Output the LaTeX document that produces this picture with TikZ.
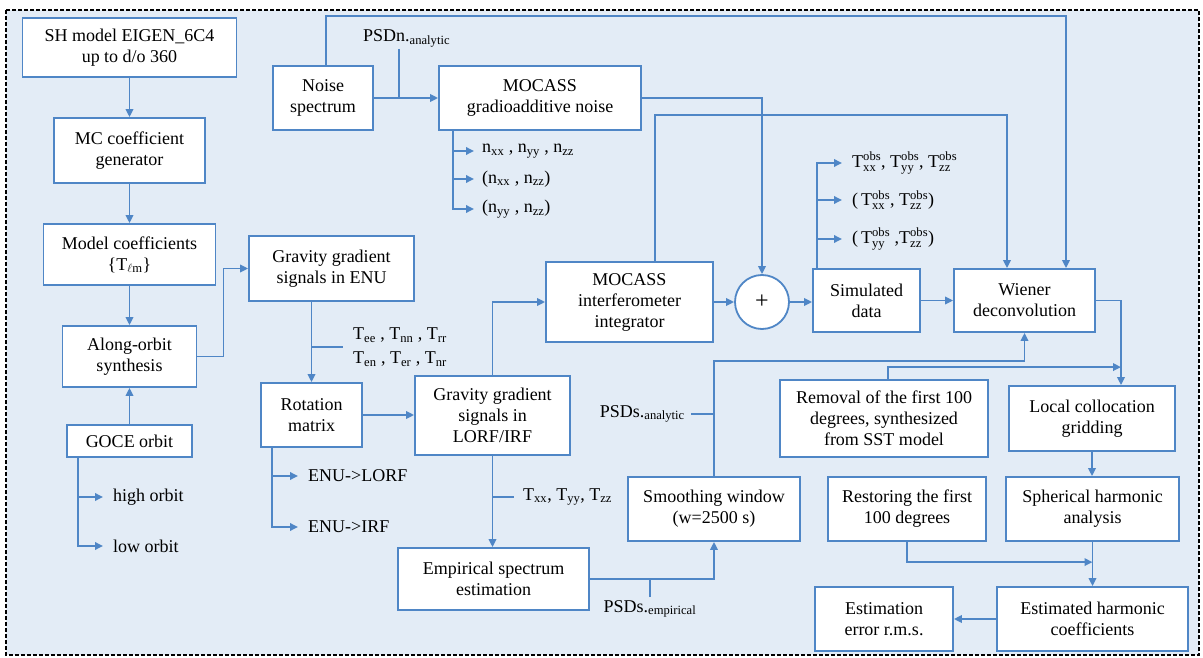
\documentclass[tikz,border=0pt]{standalone}
\usepackage{fontspec}
\setmainfont{Liberation Serif}
\usetikzlibrary{arrows.meta}
\definecolor{lineblue}{HTML}{4F86C6}
\definecolor{bgblue}{HTML}{E3ECF6}
\newcommand{\tobs}[1]{$\mathrm{T}^{\mathrm{obs}}_{\mathrm{#1}}$}

\begin{document}
\begin{tikzpicture}[x=1pt,y=-1pt,
    every node/.style={font=\fontsize{18}{21}\selectfont},
    box/.style={draw=lineblue,fill=white,line width=1.8pt,align=center,inner sep=2pt},
    lbl/.style={anchor=west,inner xsep=10pt,inner ysep=1pt,align=left},
    arr/.style={draw=lineblue,line width=1.8pt,-{Triangle[length=8pt,width=7.5pt]}},
    link/.style={draw=lineblue,line width=1.8pt}]
       % frame
       \useasboundingbox (0,0) rectangle (1203,658);
       \fill[white] (0,0) rectangle (1203,658);
       \draw[fill=bgblue,line width=1.3pt,dash pattern=on 4pt off 2pt] (6,10) rectangle (1199,655);
       % left column
       \node[box,minimum width=214pt,minimum height=59pt] (sh) at (129.5,47.5) {SH model EIGEN\_6C4\\up to d/o 360};
       \node[box,minimum width=151pt,minimum height=65pt] (mc) at (129.5,150.5) {MC coefficient\\generator};
       \node[box,minimum width=172pt,minimum height=61pt] (coef) at (129.5,254.5) {Model coefficients\\\{T\textsubscript{$\ell$m}\}};
       \node[box,minimum width=134pt,minimum height=61pt] (along) at (129.5,356.5) {Along-orbit\\synthesis};
       \node[box,minimum width=125pt,minimum height=32pt] (goce) at (129.5,441) {GOCE orbit};
       \node[lbl] (hi) at (103,497) {high orbit};
       \node[lbl] (lo) at (103,546) {low orbit};
       % noise branch
       \node[box,minimum width=100pt,minimum height=64pt] (noise) at (323,98) {Noise\\spectrum};
       \node[box,minimum width=202pt,minimum height=64pt] (gradio) at (540,98) {MOCASS\\gradioadditive noise};
       \node[anchor=base west,inner sep=0pt] (psdn) at (363,42) {PSDn.\textsubscript{analytic}};
       \coordinate (pn) at (399,49);
       \node[lbl,inner xsep=8pt] (n1) at (474,151) {n\textsubscript{xx} , n\textsubscript{yy} , n\textsubscript{zz}};
       \node[lbl,inner xsep=8pt] (n2) at (474,179) {(n\textsubscript{xx} , n\textsubscript{zz})};
       \node[lbl,inner xsep=8pt] (n3) at (474,209) {(n\textsubscript{yy} , n\textsubscript{zz})};
       % signal branch
       \node[box,minimum width=165pt,minimum height=65pt] (enu) at (331.5,268.5) {Gravity gradient\\signals in ENU};
       \node[box,minimum width=101pt,minimum height=64pt] (rot) at (311.5,415) {Rotation\\matrix};
       \node[lbl] (tenu) at (343,347) {T\textsubscript{ee} , T\textsubscript{nn} , T\textsubscript{rr}\\[3pt]T\textsubscript{en} , T\textsubscript{er} , T\textsubscript{nr}};
       \node[lbl] (lorfl) at (298,476) {ENU->LORF};
       \node[lbl] (irfl) at (298,527) {ENU->IRF};
       \node[box,minimum width=155pt,minimum height=79pt] (lorf) at (492.5,415.5) {Gravity gradient\\signals in\\LORF/IRF};
       \node[lbl,inner xsep=9pt] (txyz) at (514,497) {T\textsubscript{xx}, T\textsubscript{yy}, T\textsubscript{zz}};
       \node[box,minimum width=191pt,minimum height=62pt] (emp) at (493.5,579) {Empirical spectrum\\estimation};
       \node[anchor=north,inner sep=3pt] (psde) at (650,597) {PSDs.\textsubscript{empirical}};
       \node[box,minimum width=172pt,minimum height=64pt] (smooth) at (714,509) {Smoothing window\\(w=2500 s)};
       \node[anchor=east,inner xsep=6pt] (psda) at (691,414) {PSDs.\textsubscript{analytic}};
       \node[box,minimum width=167pt,minimum height=80pt] (inter) at (629.5,302) {MOCASS\\interferometer\\integrator};
       \node[circle,draw=lineblue,fill=white,line width=1.8pt,minimum size=54pt,inner sep=0pt,font=\fontsize{24}{24}\selectfont] (plus) at (762,302) {+};
       \node[box,minimum width=107pt,minimum height=63pt] (sim) at (866.5,300.5) {Simulated\\data};
       \node[lbl] (t1) at (842,163) {\tobs{xx}, \tobs{yy}, \tobs{zz}};
       \node[lbl] (t2) at (842,200) {(\,\tobs{xx}, \tobs{zz})};
       \node[lbl] (t3) at (842,239) {(\,\tobs{yy} ,\tobs{zz})};
       \node[box,minimum width=141pt,minimum height=63pt] (wiener) at (1024.5,300.5) {Wiener\\deconvolution};
       % right part
       \node[box,minimum width=208pt,minimum height=77pt] (removal) at (884,418.5) {Removal of the first 100\\degrees, synthesized\\from SST model};
       \node[box,minimum width=166pt,minimum height=65pt] (local) at (1092,418.5) {Local collocation\\gridding};
       \node[box,minimum width=158pt,minimum height=64pt] (restore) at (907,509) {Restoring the first\\100 degrees};
       \node[box,minimum width=173pt,minimum height=64pt] (sph) at (1092.5,509) {Spherical harmonic\\analysis};
       \node[box,minimum width=191pt,minimum height=64pt] (est) at (1092.5,619) {Estimated harmonic\\coefficients};
       \node[box,minimum width=138pt,minimum height=64pt] (err) at (884,619) {Estimation\\error r.m.s.};
       % connectors, left column
       \draw[arr] (sh.south) -- (mc.north);
       \draw[arr] (mc.south) -- (coef.north);
       \draw[arr] (coef.south) -- (along.north);
       \draw[arr] (goce.north) -- (along.south);
       \draw[arr] ([xshift=-51.5pt]goce.south) |- (hi.west);
       \draw[arr] ([xshift=-51.5pt]goce.south) |- (lo.west);
       \draw[arr] (along.east) -- ++(26,0) |- (enu.west);
       % connectors, noise
       \draw[arr] (noise.east) -- (gradio.west);
       \draw[link] (pn) -- (pn |- noise.east);
       \draw[arr] ([xshift=3pt]noise.north) |- ([xshift=41.5pt,yshift=252pt]wiener.north) -- ([xshift=41.5pt]wiener.north);
       \draw[arr] (gradio.east) -| (plus.north);
       \draw[arr] ([xshift=-87pt]gradio.south) |- (n1.west);
       \draw[arr] ([xshift=-87pt]gradio.south) |- (n2.west);
       \draw[arr] ([xshift=-87pt]gradio.south) |- (n3.west);
       % connectors, signal
       \draw[arr] (enu.south -| rot.north) -- (rot.north);
       \draw[link] (tenu.west -| rot.north) -- (tenu.west);
       \draw[arr] ([xshift=-39.5pt]rot.south) |- (lorfl.west);
       \draw[arr] ([xshift=-39.5pt]rot.south) |- (irfl.west);
       \draw[arr] (rot.east) -- (rot.east -| lorf.west);
       \draw[arr] (lorf.north) |- (inter.west);
       \draw[arr] (lorf.south) -- (lorf.south |- emp.north);
       \draw[link] (lorf.south |- txyz.west) -- (txyz.west);
       \draw[arr] (emp.east) -| (smooth.south);
       \draw[link] (psde.north) -- (psde.north |- emp.east);
       \draw[arr] (smooth.north) |- ([yshift=-28pt]wiener.south) -- (wiener.south);
       \draw[link] (psda.east) -- (psda.east -| smooth.north);
       \draw[arr] (inter.east) -- (plus.west);
       \draw[arr] ([xshift=25.5pt]inter.north) |- ([xshift=-17.5pt,yshift=153pt]wiener.north) -- ([xshift=-17.5pt]wiener.north);
       \draw[arr] (plus.east) -- (plus.east -| sim.west);
       \draw[arr] ([xshift=-49.5pt]sim.north) |- (t1.west);
       \draw[arr] ([xshift=-49.5pt]sim.north) |- (t2.west);
       \draw[arr] ([xshift=-49.5pt]sim.north) |- (t3.west);
       \draw[arr] (sim.east) -- (wiener.west);
       % connectors, right part
       \draw[arr] (wiener.east) -| ([xshift=29pt]local.north);
       \draw[arr] ([xshift=4pt]removal.north) |- ([xshift=29pt,yshift=18pt]local.north);
       \draw[arr] (local.south) -- (local.south |- sph.north);
       \draw[arr] (sph.south) -- (est.north);
       \draw[arr] (restore.south) |- ([yshift=24pt]est.north);
       \draw[arr] (est.west) -- (err.east);
    \end{tikzpicture}
\end{document}
